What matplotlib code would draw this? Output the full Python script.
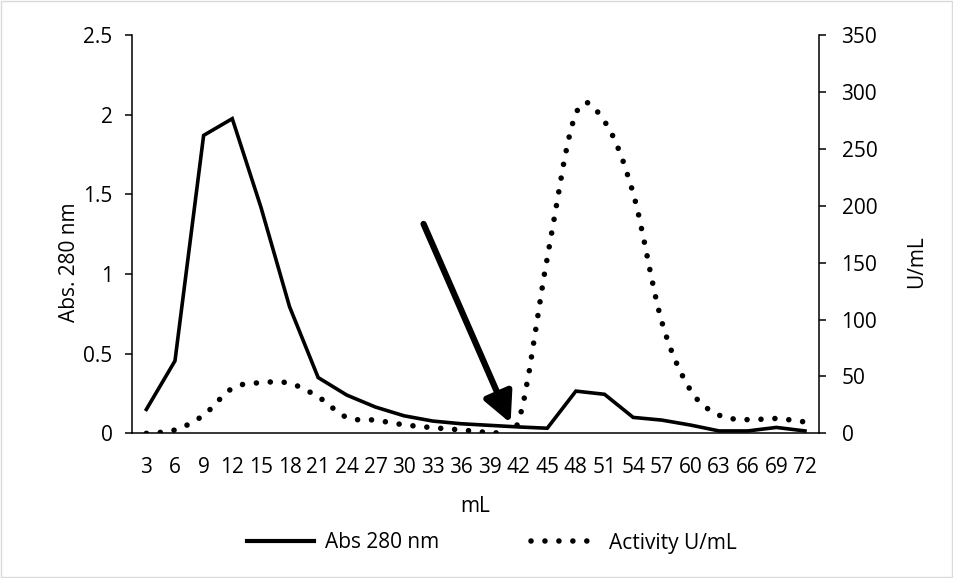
import numpy as np
import matplotlib
matplotlib.use("Agg")
import matplotlib.pyplot as plt
from matplotlib.path import Path
from matplotlib.patches import PathPatch, Rectangle
from matplotlib.lines import Line2D

# ---- data ----
ml = [3, 6, 9, 12, 15, 18, 21, 24, 27, 30, 33, 36, 39, 42, 45, 48, 51, 54, 57, 60, 63, 66, 69, 72]
abs280 = [0.15, 0.455, 1.87, 1.975, 1.42, 0.795, 0.35, 0.24, 0.165, 0.11, 0.077, 0.06, 0.05, 0.04,
          0.032, 0.265, 0.245, 0.10, 0.083, 0.052, 0.015, 0.015, 0.037, 0.015]
activity = [0, 3, 16, 39.5, 44.5, 44, 32, 14, 11.5, 7.5, 5, 3, 1.5, 11,
            154, 281, 274, 211, 98, 38, 16, 12, 13, 10]

plt.rcParams['font.family'] = ['Open Sans', 'DejaVu Sans']
FS = 15
DOTS = (0, (0.01, 2.5))
DOT_LW = 4.0


def smooth_path(xs, ys):
    # excel-like smoothed line: cubic bezier through each point
    p = np.column_stack([xs, ys]).astype(float)
    n = len(p)
    verts = [p[0]]
    codes = [Path.MOVETO]
    for i in range(n - 1):
        p0 = p[i - 1] if i > 0 else p[i]
        p3 = p[i + 2] if i + 2 < n else p[i + 1]
        c1 = p[i] + (p[i + 1] - p0) / 6.0
        c2 = p[i + 1] - (p3 - p[i]) / 6.0
        verts += [c1, c2, p[i + 1]]
        codes += [Path.CURVE4] * 3
    return Path(verts, codes)


fig = plt.figure(figsize=(9.54, 5.78), dpi=100)
ax1 = fig.add_axes([0.1384, 0.2503, 0.7204, 0.6891])
ax2 = ax1.twinx()

x = np.arange(len(ml))
ax1.plot(x, abs280, color='black', lw=2.6, solid_joinstyle='miter', zorder=3)

ax2.add_patch(PathPatch(smooth_path(x, activity), fill=False, edgecolor='black', lw=DOT_LW,
                        linestyle=DOTS, capstyle='round'))

ax1.set_xlim(-0.5, len(ml) - 0.5)
ax1.set_ylim(0, 2.5)
ax2.set_ylim(0, 350)
ax1.set_yticks(np.arange(0, 2.51, 0.5))
ax1.set_yticklabels(['0', '0.5', '1', '1.5', '2', '2.5'])
ax2.set_yticks(np.arange(0, 351, 50))
ax1.set_xticks(x)
ax1.set_xticklabels([str(v) for v in ml])

for a in (ax1, ax2):
    a.spines['top'].set_visible(False)
    for s in a.spines.values():
        s.set_linewidth(1.1)
ax1.spines['right'].set_visible(False)
ax2.spines['left'].set_visible(False)
ax2.spines['bottom'].set_visible(False)

ax1.tick_params(axis='y', length=5, width=1.1, pad=9, labelsize=FS)
ax2.tick_params(axis='y', length=5, width=1.1, pad=11, labelsize=FS)
ax1.tick_params(axis='x', length=0, pad=17, labelsize=FS)

ax1.set_ylabel('Abs. 280 nm', fontsize=FS, labelpad=2)
ax2.set_ylabel('U/mL', fontsize=FS, labelpad=21)
ax1.set_xlabel('mL', fontsize=FS, labelpad=13)
ax1.yaxis.label.set_y(0.43)
ax2.yaxis.label.set_y(0.43)

# arrow pointing to where the activity peak begins
ax2.annotate('', xy=(12.72, 9.0), xytext=(9.68, 184.0),
             arrowprops=dict(arrowstyle='-|>,head_length=0.9,head_width=0.45', lw=4.5,
                             color='black', mutation_scale=20, shrinkA=0, shrinkB=0),
             zorder=5)

handles = [Line2D([], [], color='black', lw=3.0),
           Line2D([], [], color='black', lw=DOT_LW, linestyle=DOTS, dash_capstyle='round')]
fig.legend(handles, ['Abs 280 nm', 'Activity U/mL'], loc='center',
           bbox_to_anchor=(0.516, 1 - 543 / 578), ncol=2, frameon=False, fontsize=FS,
           handlelength=3.2, handletextpad=0.55, columnspacing=4.4)

fig.patches.append(Rectangle((0.001, 0.001), 0.997, 0.997, transform=fig.transFigure,
                             fill=False, edgecolor='#d9d9d9', lw=1.0))

fig.savefig('out.png', dpi=100)
